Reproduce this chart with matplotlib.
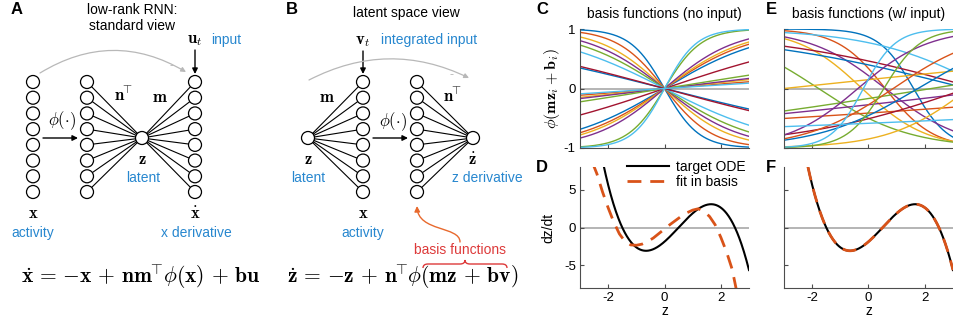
import numpy as np
import matplotlib
matplotlib.use("Agg")
import matplotlib.pyplot as plt
from matplotlib.patches import Circle, FancyArrowPatch, PathPatch
from matplotlib.path import Path

plt.rcParams["font.family"] = ["Liberation Sans", "DejaVu Sans"]
plt.rcParams["mathtext.fontset"] = "cm"
plt.rcParams["axes.unicode_minus"] = False

# ---------------------------------------------------------------- data
BLUE, ORANGE, YELLOW, PURPLE = "#0072BD", "#D95319", "#EDB120", "#7E2F8E"
GREEN, CYAN, DARKRED = "#77AC30", "#4DBEEE", "#A2142F"

basis_colors = [BLUE, ORANGE, YELLOW, PURPLE, GREEN, CYAN, BLUE, DARKRED,
                ORANGE, YELLOW, PURPLE, GREEN, DARKRED, BLUE, ORANGE,
                YELLOW, PURPLE, GREEN, CYAN, CYAN]
# loadings m_i of each unit on the latent z
basis_slopes = [-0.82, -0.59, -0.44, -0.37, -0.31, -0.24, -0.12, -0.13,
                0.038, 0.05, 0.057, 0.076, 0.16, 0.28, 0.32,
                0.35, 0.40, 0.77, 0.88, 0.03]
# constant input drive b_i v for each unit
basis_input = [1.31, 0.35, -0.10, 0.22, -0.55, 1.02, 0.42, 0.50,
               -0.44, 0.15, -0.28, -0.17, -0.56, -0.49, -0.28,
               -1.25, 0.15, -0.42, 0.16, -0.67]

# target ODE dz/dt: cubic with fixed points at these z values
target_fixed_points = [-1.5, 0.5, 2.5]

# least-squares fit using only the no-input basis
fit_z = [-2.56, -2.4, -2.2, -2.0, -1.8, -1.6, -1.4, -1.2, -1.0, -0.8, -0.6,
         -0.4, -0.2, 0.0, 0.2, 0.4, 0.6, 0.8, 1.0, 1.2, 1.4, 1.6, 1.8, 2.0,
         2.2, 2.4, 2.5, 2.56]
fit_dz = [8.6, 7.1, 4.7, 2.6, 0.7, -0.85, -1.85, -2.3, -2.35, -2.2, -1.85,
          -1.4, -0.8, -0.2, 0.4, 0.95, 1.5, 1.95, 2.3, 2.48, 2.15, 1.45, 0.35,
          -1.3, -3.2, -5.5, -7.3, -8.4]

# ---------------------------------------------------------------- figure
W, H = 954, 323
fig = plt.figure(figsize=(W / 100, H / 100), dpi=100)


def add_axes_px(x0, y0, x1, y1):
    return fig.add_axes([x0 / W, 1 - y1 / H, (x1 - x0) / W, (y1 - y0) / H])


AX_COLOR = "#4d4d4d"


def style(ax, xlim, ylim):
    ax.set_xlim(*xlim)
    ax.set_ylim(*ylim)
    for s in ("top", "right"):
        ax.spines[s].set_visible(False)
    for s in ("left", "bottom"):
        ax.spines[s].set_color(AX_COLOR)
        ax.spines[s].set_linewidth(0.8)
    ax.tick_params(direction="in", length=3, width=0.8, color=AX_COLOR,
                   labelsize=9.5, pad=3)
    ax.axhline(0, color="#a8a8a8", lw=1.2, zorder=0.5)


z = np.linspace(-3, 3, 401)
target = -np.polyval(np.poly(target_fixed_points), z)

# C: basis functions without input
axC = add_axes_px(580, 29, 749, 148)
style(axC, (-3, 3), (-1, 1))
for m, c in zip(basis_slopes, basis_colors):
    axC.plot(z, np.tanh(m * z), color=c, lw=1.0)
axC.set_xticks([-2, 0, 2])
axC.set_xticklabels([])
axC.set_yticks([-1, 0, 1])
axC.set_ylabel(r"$\phi(\mathbf{m}\mathbf{z}_i+\mathbf{b}_i)$", fontsize=11.5,
               labelpad=1)
axC.set_title("basis functions (no input)", fontsize=10, pad=8)

# E: basis functions with input
axE = add_axes_px(784, 29, 953, 148)
style(axE, (-3, 3), (-1, 1))
for m, b, c in zip(basis_slopes, basis_input, basis_colors):
    axE.plot(z, np.tanh(m * z + b), color=c, lw=1.0)
axE.set_xticks([-2, 0, 2])
axE.set_xticklabels([])
axE.set_yticks([-1, 0, 1])
axE.set_yticklabels([])
axE.set_title("basis functions (w/ input)", fontsize=10, pad=8)

# D: target vs fit without input
axD = add_axes_px(580, 167, 749, 288)
style(axD, (-3, 3), (-8, 8))
lt, = axD.plot(z, target, color="black", lw=1.5)
lf, = axD.plot(fit_z, fit_dz, color=ORANGE, lw=2.0, dashes=(5, 3.2))
axD.set_xticks([-2, 0, 2])
axD.set_yticks([-5, 0, 5])
axD.set_xlabel("z", fontsize=10, labelpad=0)
axD.set_ylabel("dz/dt", fontsize=10, labelpad=6)
axD.legend([lt, lf], ["target ODE", "fit in basis"], loc="upper left",
           bbox_to_anchor=(0.28, 1.06), frameon=False, fontsize=10,
           handlelength=3.0, handletextpad=0.5, borderpad=0,
           labelspacing=0.1, borderaxespad=0)

# F: target vs fit with input
axF = add_axes_px(784, 167, 953, 288)
style(axF, (-3, 3), (-8, 8))
axF.plot(z, target, color="black", lw=1.5)
axF.plot(z, target, color=ORANGE, lw=2.0, dashes=(5, 3.2))
axF.set_xticks([-2, 0, 2])
axF.set_yticks([-5, 0, 5])
axF.set_yticklabels([])
axF.set_xlabel("z", fontsize=10, labelpad=0)

# ---------------------------------------------------------------- diagrams
ov = fig.add_axes([0, 0, 1, 1])
ov.set_xlim(0, W)
ov.set_ylim(H, 0)
ov.axis("off")
ov.patch.set_visible(False)

LBL = "#2787cf"
GRAY = "#b8b8b8"
R = 6.5
col_y = np.linspace(82, 192, 8)


def column(x):
    for y in col_y:
        ov.add_patch(Circle((x, y), R, fc="white", ec="black", lw=0.9,
                            zorder=4))


def node(x, y):
    ov.add_patch(Circle((x, y), R, fc="white", ec="black", lw=0.9, zorder=4))


def fan(x, node_xy):
    for y in col_y:
        ov.plot([x, node_xy[0]], [y, node_xy[1]], color="black", lw=0.8,
                zorder=2)


def arrow(p0, p1, color="black", lw=1.0, ms=8, **kw):
    ov.add_patch(FancyArrowPatch(p0, p1, arrowstyle="-|>", mutation_scale=ms,
                                 color=color, lw=lw, shrinkA=0, shrinkB=0,
                                 zorder=5, **kw))


for lbl, xy in (("A", (17, 9)), ("B", (292, 9)), ("C", (542, 10)),
                ("D", (542, 168)), ("E", (771, 10)), ("F", (771, 168))):
    ov.text(*xy, lbl, fontsize=12, fontweight="bold", ha="center",
            va="center")

NT = r"$\mathbf{n}^{\!\!\top}$"

# --- A: standard view
xa1, xa2, xa3, za = 33, 87, 195, (142, 138)
column(xa1); column(xa2); column(xa3); node(*za)
fan(xa2, za); fan(xa3, za)
ov.text(132, 18, "low-rank RNN:\nstandard view", fontsize=10, ha="center",
        va="center", linespacing=1.2)
arrow((43, 138), (78, 138))
ov.text(62, 121, r"$\phi(\cdot)$", fontsize=12, ha="center", va="center")
ov.text(124, 95, NT, fontsize=12, ha="center", va="center")
ov.text(160, 97, r"$\mathbf{m}$", fontsize=12, ha="center", va="center")
ov.text(142, 160, r"$\mathbf{z}$", fontsize=12, ha="center", va="center")
ov.text(143, 178, "latent", fontsize=10, color=LBL, ha="center",
        va="center")
ov.text(33, 214, r"$\mathbf{x}$", fontsize=12, ha="center", va="center")
ov.text(33, 233, "activity", fontsize=10, color=LBL, ha="center",
        va="center")
ov.text(195, 214, r"$\dot{\mathbf{x}}$", fontsize=12, ha="center",
        va="center")
ov.text(196, 233, "x derivative", fontsize=10, color=LBL, ha="center",
        va="center")
ov.text(195, 41, r"$\mathbf{u}_t$", fontsize=12, ha="center", va="center")
ov.text(211, 40, "input", fontsize=10, color=LBL, ha="left", va="center")
arrow((195, 50), (195, 74))
arrow((40, 73), (186, 72), color=GRAY, lw=0.9, ms=7,
      connectionstyle="arc3,rad=-0.3")
ov.text(172, 66, "-", fontsize=9, color=GRAY, ha="center", va="center")
ov.text(141, 277,
        r"$\dot{\mathbf{x}}\,=\,{-\mathbf{x}}\,+\,\mathbf{n}\mathbf{m}^{\!\!\top}"
        r"\!\phi(\mathbf{x})\,+\,\mathbf{b}\mathbf{u}$",
        fontsize=15.5, ha="center", va="center")

# --- B: latent space view
zb, xb1, xb2, zdb = (308, 138), 363, 417, (473, 138)
column(xb1); column(xb2); node(*zb); node(*zdb)
fan(xb1, zb); fan(xb2, zdb)
ov.text(406, 13, "latent space view", fontsize=10, ha="center",
        va="center")
arrow((373, 138), (408, 138))
ov.text(393, 122, r"$\phi(\cdot)$", fontsize=12, ha="center", va="center")
ov.text(327, 97, r"$\mathbf{m}$", fontsize=12, ha="center", va="center")
ov.text(453, 96, NT, fontsize=12, ha="center", va="center")
ov.text(308, 160, r"$\mathbf{z}$", fontsize=12, ha="center", va="center")
ov.text(308, 178, "latent", fontsize=10, color=LBL, ha="center",
        va="center")
ov.text(472, 160, r"$\dot{\mathbf{z}}$", fontsize=12, ha="center",
        va="center")
ov.text(452, 178, "z derivative", fontsize=10, color=LBL, ha="left",
        va="center")
ov.text(363, 213, r"$\mathbf{x}$", fontsize=12, ha="center", va="center")
ov.text(363, 233, "activity", fontsize=10, color=LBL, ha="center",
        va="center")
ov.text(363, 42, r"$\mathbf{v}_t$", fontsize=12, ha="center", va="center")
ov.text(381, 40, "integrated input", fontsize=10, color=LBL, ha="left",
        va="center")
arrow((363, 51), (363, 74))
arrow((309, 80), (469, 78), color=GRAY, lw=0.9, ms=7,
      connectionstyle="arc3,rad=-0.25")
ov.text(452, 75, "-", fontsize=9, color=GRAY, ha="center", va="center")

RED = "#dd3a3a"
ORG = "#e8692d"
ov.text(460, 250, "basis functions", fontsize=10, color=RED, ha="center",
        va="center")
arrow_path = Path([(460, 242), (460, 226), (418, 232), (417, 206)],
                  [Path.MOVETO, Path.CURVE4, Path.CURVE4, Path.CURVE4])
ov.add_patch(FancyArrowPatch(path=arrow_path, arrowstyle="-|>",
                             mutation_scale=8, color=ORG, lw=1.0, zorder=5))

ov.text(403, 277,
        r"$\dot{\mathbf{z}}\,=\,{-\mathbf{z}}\,+\,\mathbf{n}^{\!\!\top}"
        r"\!\phi(\mathbf{m}\mathbf{z}\,+\,\mathbf{b}\mathbf{v})$",
        fontsize=15.5, ha="center", va="center")

# brace over the argument of phi
x0, x1, yb, ym, yt = 423, 507, 268, 264, 260
xm = (x0 + x1) / 2
brace = Path([(x0, yb), (x0, ym), (x0 + 5, ym), (xm - 5, ym), (xm, ym),
              (xm, yt), (xm, ym), (xm + 5, ym), (x1 - 5, ym), (x1, ym),
              (x1, yb)],
             [Path.MOVETO, Path.CURVE3, Path.CURVE3, Path.LINETO,
              Path.CURVE3, Path.CURVE3, Path.CURVE3, Path.CURVE3,
              Path.LINETO, Path.CURVE3, Path.CURVE3])
ov.add_patch(PathPatch(brace, fc="none", ec=RED, lw=1.0))

fig.savefig("out.png", dpi=100)
